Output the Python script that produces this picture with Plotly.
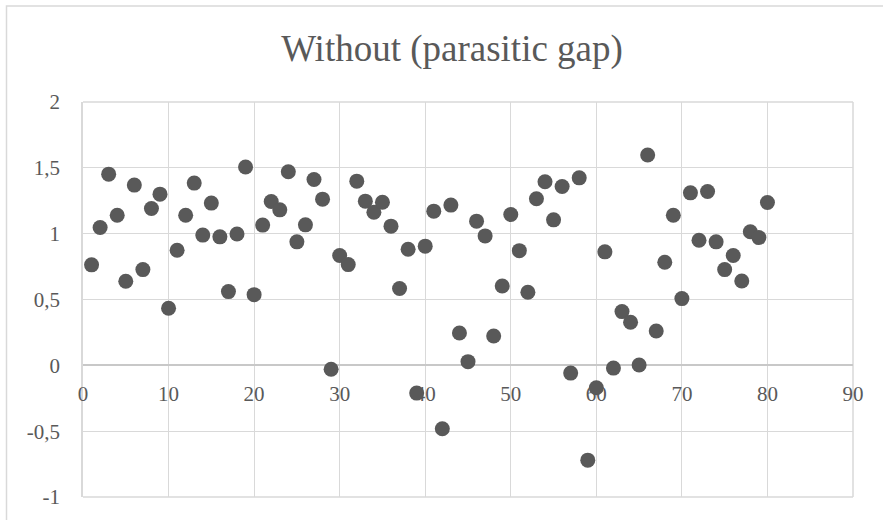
import plotly.graph_objects as go

x_values = list(range(1, 81))
y_values = [
    0.763, 1.047, 1.452, 1.140, 0.639, 1.369, 0.727, 1.191, 1.300, 0.433,
    0.874, 1.140, 1.384, 0.989, 1.232, 0.976, 0.560, 0.998, 1.506, 0.537,
    1.065, 1.244, 1.181, 1.470, 0.938, 1.067, 1.411, 1.262, -0.030, 0.834,
    0.765, 1.399, 1.247, 1.163, 1.239, 1.057, 0.583, 0.882, -0.211, 0.905,
    1.171, -0.482, 1.217, 0.246, 0.028, 1.095, 0.983, 0.223, 0.603, 1.145,
    0.871, 0.555, 1.265, 1.394, 1.105, 1.358, -0.059, 1.424, -0.720, -0.170,
    0.862, -0.021, 0.408, 0.327, 0.002, 1.597, 0.261, 0.783, 1.140, 0.507,
    1.310, 0.950, 1.320, 0.938, 0.727, 0.834, 0.641, 1.014, 0.970, 1.237,
]

x_tick_vals = [0, 10, 20, 30, 40, 50, 60, 70, 80, 90]
x_tick_labels = ["0", "10", "20", "30", "40", "50", "60", "70", "80", "90"]
y_tick_vals = [-1, -0.5, 0, 0.5, 1, 1.5, 2]
y_tick_labels = ["-1", "-0,5", "0", "0,5", "1", "1,5", "2"]

title_text = "Without (parasitic gap)"

FONT = "Times New Roman, Tinos, Liberation Serif, DejaVu Serif, serif"
TEXT = "#595959"
GRID = "#d9d9d9"

fig = go.Figure()
fig.add_trace(go.Scatter(
    x=x_values, y=y_values, mode="markers",
    marker=dict(size=15, color="#595959", line=dict(width=0)),
    hoverinfo="x+y", showlegend=False,
))

fig.update_layout(
    width=883, height=520,
    margin=dict(l=83, r=30, t=102, b=23),
    paper_bgcolor="white", plot_bgcolor="white",
    font=dict(family=FONT, color=TEXT, size=21),
    title=dict(text=title_text, x=452 / 883, xanchor="center",
               y=1 - 48 / 520, yanchor="middle", xref="container",
               yref="container",
               font=dict(family=FONT, size=37, color=TEXT)),
    xaxis=dict(
        range=[0, 90], tickvals=x_tick_vals, ticktext=x_tick_labels,
        showgrid=True, gridcolor=GRID, gridwidth=1,
        zeroline=False, showline=True, linecolor="#c8c8c8", linewidth=1.5,
        anchor="free", position=1 / 3, ticks="", ticklabelstandoff=10,
        layer="below traces", tickfont=dict(size=21, color=TEXT, family=FONT),
        fixedrange=True,
    ),
    yaxis=dict(
        range=[-1, 2], tickvals=y_tick_vals, ticktext=y_tick_labels,
        showgrid=True, gridcolor=GRID, gridwidth=1,
        zeroline=False, showline=True, linecolor=GRID, linewidth=1.5,
        ticks="", ticklabelstandoff=17, layer="below traces",
        tickfont=dict(size=21, color=TEXT, family=FONT),
        fixedrange=True,
    ),
    shapes=[
        dict(type="line", xref="paper", yref="paper", x0=1, x1=1, y0=0, y1=1,
             line=dict(color=GRID, width=1.5), layer="below"),
        dict(type="line", xref="paper", yref="paper", x0=0, x1=1, y0=0, y1=0,
             line=dict(color=GRID, width=1.5), layer="below"),
        dict(type="line", xref="paper", yref="paper", x0=0, x1=1, y0=1, y1=1,
             line=dict(color=GRID, width=1.5), layer="below"),
        dict(type="rect", xref="paper", yref="paper",
             x0=(6.5 - 83) / 770, x1=(895 - 83) / 770,
             y0=-(530 - 497) / 395, y1=1 + (102 - 6) / 395,
             line=dict(color=GRID, width=1.5), fillcolor="rgba(0,0,0,0)", layer="below"),
    ],
)

fig.write_html("out.html")
